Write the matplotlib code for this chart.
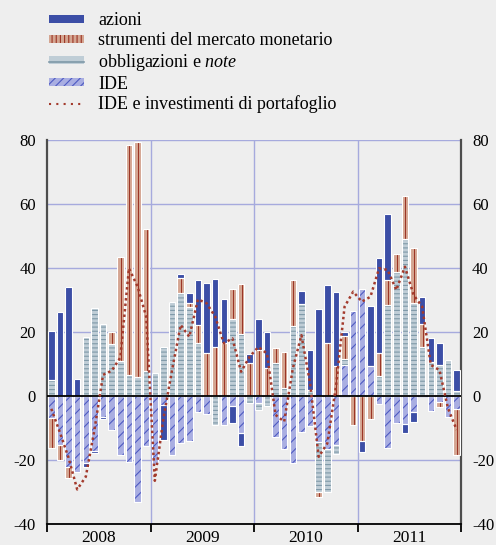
import numpy as np
import matplotlib
matplotlib.use('Agg')
import matplotlib.pyplot as plt
import matplotlib.patches as mpatches
from matplotlib.lines import Line2D
from matplotlib.legend_handler import HandlerTuple

plt.rcParams['font.family'] = ['Liberation Serif', 'DejaVu Serif']
plt.rcParams['mathtext.fontset'] = 'custom'
plt.rcParams['mathtext.rm'] = 'Liberation Serif'
plt.rcParams['mathtext.it'] = 'Liberation Serif:italic'
plt.rcParams['hatch.linewidth'] = 0.8
plt.rcParams['axes.unicode_minus'] = False

# monthly data, Jan 2008 - Dec 2011
years = ['2008', '2009', '2010', '2011']

azioni = [15.4, 26.4, 34.2, 5.2, -1.3, -0.8, -0.6, 0, 0, 0, 0, 0,
          0, -11.0, 0, 1.3, 3.3, 14.1, 21.9, 21.4, 13.7, -5.4, -4.1, 2.6,
          9.6, 11.5, 0, 0, 0, 4.1, 12.5, 27.2, 18.2, 23.0, 1.3, 0,
          -3.6, 18.8, 29.5, 20.6, 0, -2.8, -3.1, 8.6, 7.3, 6.8, 0, 6.4]

strumenti = [-9.4, -4.7, -3.4, 0, 0, 0, 0, 4.0, 32.4, 71.9, 73.7, 44.3,
             0, 0, 0, 4.7, 1.1, 5.7, 13.3, 15.2, 16.5, 9.3, 15.6, 10.4,
             14.4, 8.6, 4.5, 11.5, 14.3, 0, 0, -1.4, 16.5, 9.4, 7.3, -9.1,
             -14.0, -7.3, 7.2, 7.9, 5.8, 13.6, 16.9, 7.0, 0, -1.7, 0, -14.3]

obbligazioni = [5.0, 0, 0, 0, 18.3, 27.6, 22.4, 16.1, 10.9, 6.6, 5.8, 7.9,
                7.1, 15.2, 29.3, 32.1, 27.9, 16.5, 0, -9.1, 0, 24.0, 19.4, -2.2,
                -2.1, -3.1, 10.4, 2.4, 22.0, 28.8, 1.9, -15.6, -13.3, -2.8, 1.8, 0,
                0, 0, 6.3, 28.4, 38.6, 49.0, 29.2, 15.4, 10.7, 9.7, 11.3, 1.7]

ide = [-7.0, -15.3, -22.1, -23.9, -21.0, -17.1, -6.7, -10.6, -18.4, -20.7, -33.0, -15.6,
       -21.6, -2.8, -18.4, -14.8, -14.1, -4.9, -5.7, 0, -9.1, -3.1, -11.5, 0,
       -2.3, 0, -12.7, -16.7, -20.8, -11.1, -9.4, -14.5, -16.6, -15.3, 9.7, 26.7,
       33.3, 9.4, -2.5, -16.1, -8.5, -8.9, -4.9, 0, -4.6, -1.8, -6.6, -4.2]

totale = [-4.0, -11.4, -19.3, -29.2, -25.2, -10.6, 6.6, 7.9, 12.0, 39.9, 34.2, 24.8,
          -26.5, -7.0, 8.1, 22.2, 18.5, 30.2, 29.0, 24.8, 16.5, 18.0, 7.6, 12.3,
          15.3, 13.3, -5.9, -8.0, 8.6, 19.0, 4.0, -19.0, -14.8, 2.9, 27.9, 32.6,
          29.5, 31.0, 39.9, 39.4, 33.1, 40.4, 31.6, 27.9, 9.7, 8.1, -3.9, -10.6]

bg = '#EEEEEE'
grid_col = '#A6AADD'
c_az = '#3C4EA6'
c_st, h_st = '#D4A591', '#9B3526'
c_ob, h_ob = '#BFCDD6', '#7F99A8'
c_ide, h_ide = '#A9AEE2', '#4E5AC2'
c_line = '#A33A2C'

fig = plt.figure(figsize=(4.96, 5.45), dpi=100, facecolor=bg)
ax = fig.add_axes([47/496, 21/545, 414/496, 384/545], facecolor=bg)

x = np.arange(len(totale))
w = 0.76
pos = np.zeros(len(x))
neg = np.zeros(len(x))

series = [(ide, c_ide, h_ide, '///'),
          (obbligazioni, c_ob, h_ob, '----'),
          (strumenti, c_st, None, None),
          (azioni, c_az, None, None)]

for vals, col, hcol, hatch in series:
    v = np.array(vals, dtype=float)
    b = np.where(v >= 0, pos, neg)
    m = v != 0
    if hatch:
        ax.bar(x[m], v[m], bottom=b[m], width=w, color=col, edgecolor=hcol,
               linewidth=0, hatch=hatch, zorder=2)
    else:
        ax.bar(x[m], v[m], bottom=b[m], width=w, color=col, linewidth=0, zorder=2)
    if vals is strumenti:
        # dark stripe inside the money market bars
        ax.bar(x[m] + 0.12, v[m], bottom=b[m], width=0.12, color=h_st,
               linewidth=0, zorder=2.5)
    ax.bar(x[m], v[m], bottom=b[m], width=w, fill=False, edgecolor='white',
           linewidth=0.8, zorder=3)
    pos += np.clip(v, 0, None)
    neg += np.clip(v, None, 0)

ax.plot(x, totale, color=c_line, lw=1.8, linestyle=(0, (1, 1.2)), zorder=5)
ax.axhline(0, color='black', lw=1.3, zorder=4)

ax.set_ylim(-40, 80)
ax.set_xlim(-0.5, len(x) - 0.5)
ax.set_yticks(np.arange(-40, 81, 20))
ax.yaxis.grid(True, color=grid_col, lw=1.0, zorder=0)
for b in [11.5, 23.5, 35.5]:
    ax.axvline(b, color=grid_col, lw=1.0, zorder=0)
ax.set_axisbelow(True)

ax.tick_params(axis='y', length=0, labelsize=12, pad=8, labelright=True)
ax.set_xticks([-0.5, 11.5, 23.5, 35.5, 47.5])
ax.set_xticklabels([])
ax.set_xticks([5.5, 17.5, 29.5, 41.5], minor=True)
ax.set_xticklabels(years, minor=True)
ax.tick_params(axis='x', which='major', direction='out', length=6, width=1.3,
               color='black')
ax.tick_params(axis='x', which='minor', length=0, labelsize=12.5, pad=4)

ax.spines['top'].set_visible(False)
for s in ['left', 'right']:
    ax.spines[s].set_color('#4D4D4D')
    ax.spines[s].set_linewidth(1.6)
ax.spines['bottom'].set_color('black')
ax.spines['bottom'].set_linewidth(1.3)

h_azioni = mpatches.Patch(facecolor=c_az, linewidth=0)
h_strum = mpatches.Patch(facecolor=c_st, edgecolor=h_st, hatch='||||', linewidth=0)
h_obb = (mpatches.Patch(facecolor=c_ob, linewidth=0),
         Line2D([], [], color=h_ob, lw=1.2))
h_ide = mpatches.Patch(facecolor=c_ide, edgecolor=h_ide, hatch='////', linewidth=0)
h_tot = Line2D([], [], color=c_line, lw=1.5, linestyle=(0, (1, 2.5)))

fig.legend([h_azioni, h_strum, h_obb, h_ide, h_tot],
           ['azioni', 'strumenti del mercato monetario',
            r'obbligazioni e $\mathit{note}$', 'IDE',
            'IDE e investimenti di portafoglio'],
           handler_map={tuple: HandlerTuple(ndivide=1)},
           loc='upper left', bbox_to_anchor=(44/496, 1 - 7/545),
           frameon=False, fontsize=13, handlelength=1.9, handleheight=0.3,
           handletextpad=0.8, labelspacing=0.15, borderaxespad=0, borderpad=0.3)

fig.savefig('out.png', dpi=100, facecolor=bg)
